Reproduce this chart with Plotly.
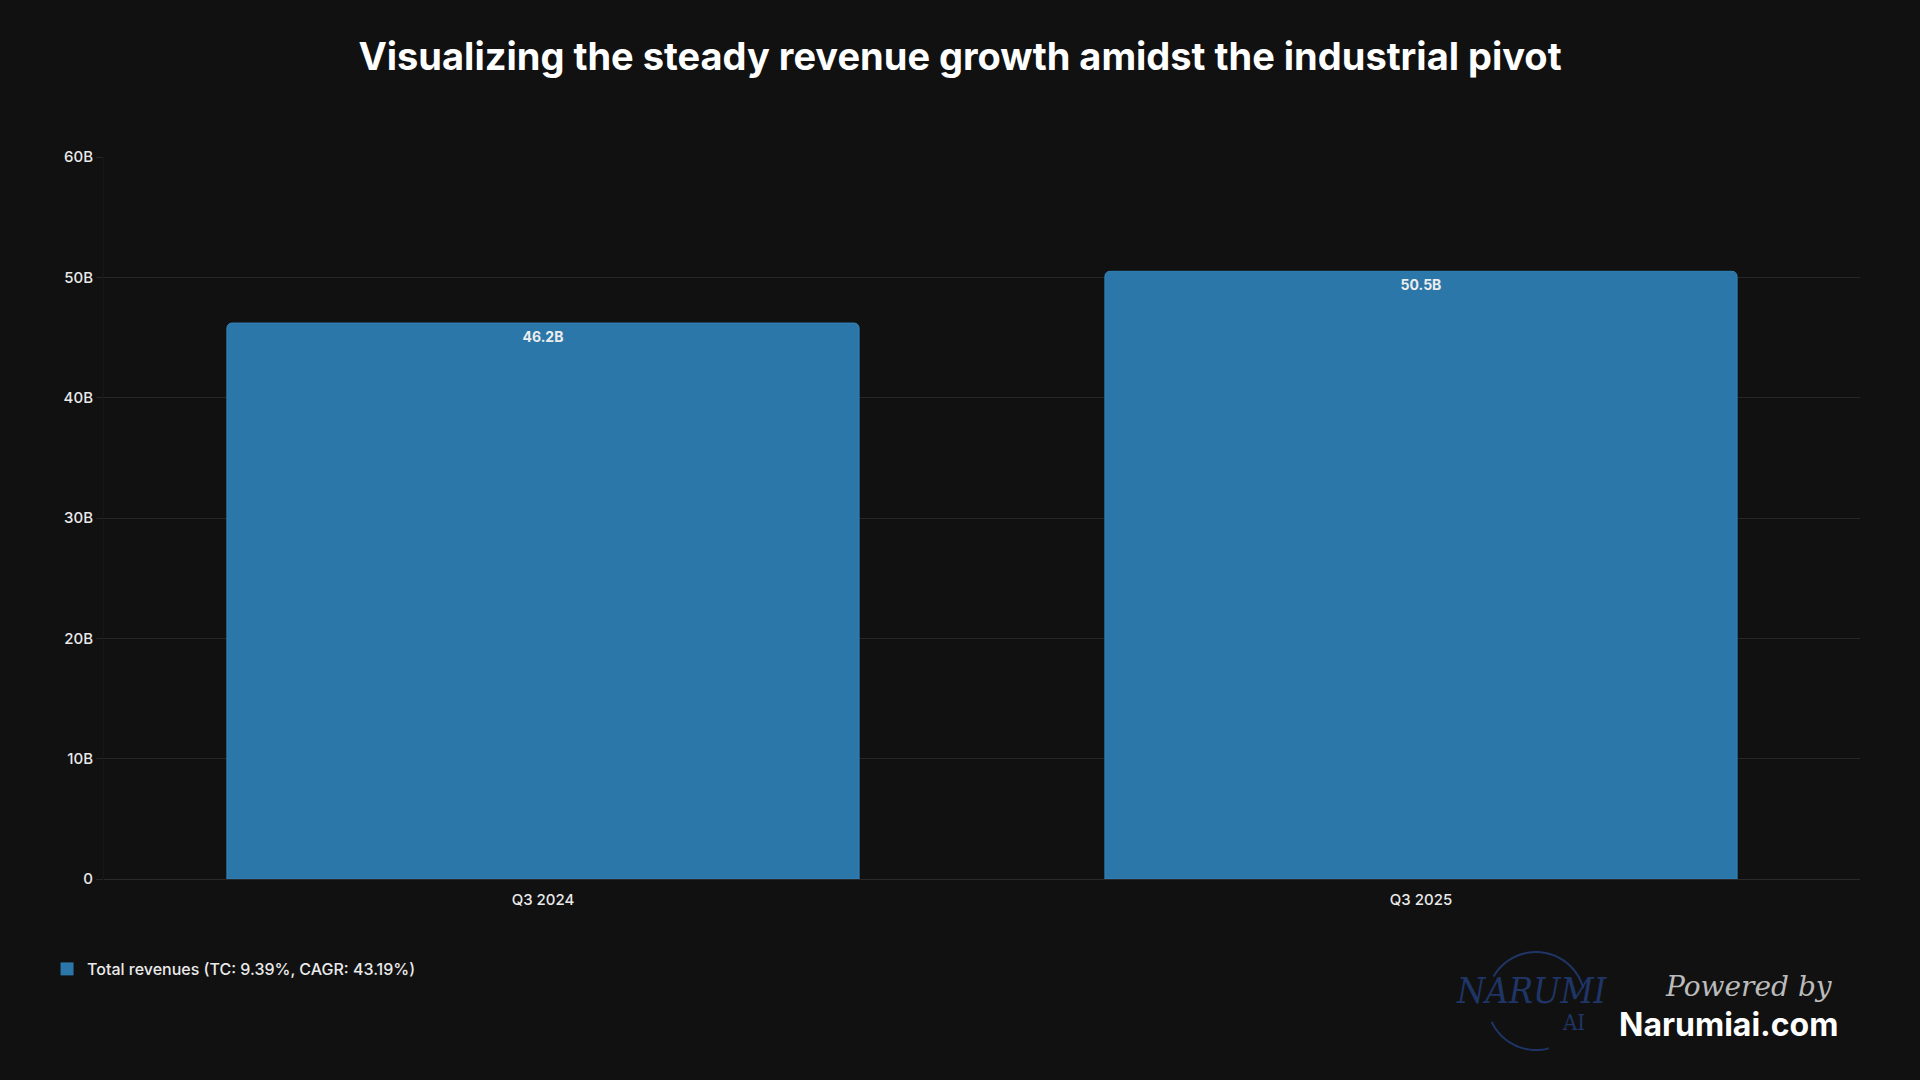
import numpy as np
import plotly.graph_objects as go

categories = ["Q3 2024", "Q3 2025"]
revenues_b = [46.2, 50.5]
bar_labels = ["46.2B", "50.5B"]
tick_vals = [0, 10, 20, 30, 40, 50, 60]
tick_text = ["0", "10B", "20B", "30B", "40B", "50B", "60B"]
series_name = "Total revenues (TC: 9.39%, CAGR: 43.19%)"
title_text = "Visualizing the steady revenue growth amidst the industrial pivot"

BG = "#111111"
BAR = "#2C77A9"
TXT = "#EAEAEA"

fig = go.Figure()
fig.add_trace(go.Bar(
    x=categories, y=revenues_b, name=series_name,
    text=bar_labels, textposition="inside", insidetextanchor="end",
    textfont=dict(family="Inter", size=14, color="#EDEDED", weight="bold"),
    marker=dict(color=BAR, line=dict(color="#3384BA", width=1)),
    showlegend=False,
))
# legend entry (square swatch)
fig.add_trace(go.Scatter(
    x=[None], y=[None], mode="markers", name=series_name,
    marker=dict(symbol="square", size=13, color=BAR), showlegend=True,
))

fig.update_layout(
    width=1920, height=1080,
    paper_bgcolor=BG, plot_bgcolor=BG,
    margin=dict(l=104, r=60, t=157, b=201),
    bargap=0.28, barcornerradius=5,
    title=dict(text=title_text, x=0.5, xanchor="center", y=1 - 57 / 1080, yanchor="middle",
               font=dict(family="Inter", size=38, color="#FFFFFF", weight="bold")),
    font=dict(family="Inter", color=TXT),
    xaxis=dict(showgrid=False, showline=False, ticks="", tickfont=dict(size=15, color=TXT, weight=500),
               zeroline=False, ticklabelstandoff=10),
    yaxis=dict(range=[0, 60], tickvals=tick_vals, ticktext=tick_text,
               showgrid=True, gridcolor="#262626", gridwidth=1,
               zeroline=True, zerolinecolor="#2A2A2A", zerolinewidth=1,
               ticks="outside", ticklen=7, tickcolor="#262626",
               showline=True, linecolor="#181818", linewidth=1,
               tickfont=dict(size=15, color=TXT, weight=500)),
    legend=dict(orientation="h", xref="container", yref="container",
                x=0.0245, xanchor="left", y=1 - 969 / 1080, yanchor="middle",
                font=dict(size=16, color=TXT, weight=500), bgcolor="rgba(0,0,0,0)",
                itemwidth=30),
)

# Logo (pixel positions converted to paper coordinates)
def px(xp):
    return (xp - 104) / 1756

def py(yp):
    return (879 - yp) / 722

annotations = [
    dict(text="NARUMI", x=px(1532), y=py(990), font=dict(family="DejaVu Serif Condensed", size=36, color="#1F3566", style="italic")),
    dict(text="AI", x=px(1573), y=py(1022), font=dict(family="DejaVu Serif Condensed", size=22, color="#1F3566")),
    dict(text="Powered by", x=px(1749), y=py(986), font=dict(family="DejaVu Serif", size=28, color="#BBBBBB", style="italic")),
    dict(text="Narumiai.com", x=px(1728), y=py(1024), font=dict(family="Inter", size=32, color="#FFFFFF", weight="bold")),
]
for a in annotations:
    a.update(xref="paper", yref="paper", showarrow=False, xanchor="center", yanchor="middle")
fig.update_layout(annotations=annotations)

cx, cy, r = 1536, 1001, 49
def arc(a0, a1, n=40):
    t = np.radians(np.linspace(a0, a1, n))
    xs = cx + r * np.cos(t)
    ys = cy - r * np.sin(t)
    return "M " + " L ".join(f"{px(x):.5f},{py(y):.5f}" for x, y in zip(xs, ys))

for a0, a1 in [(150, 15), (205, 285)]:
    fig.add_shape(type="path", path=arc(a0, a1), xref="paper", yref="paper",
                  line=dict(color="#1F3566", width=2))

fig.write_html("out.html")
